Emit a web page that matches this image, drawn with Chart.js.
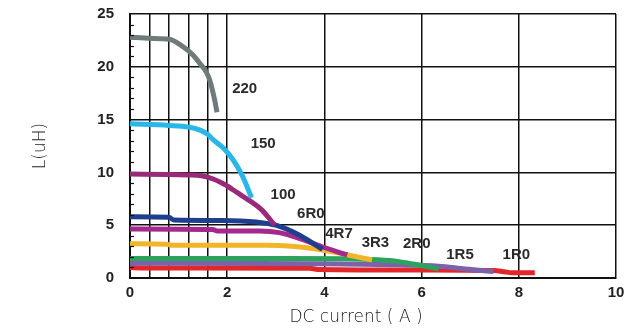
<!DOCTYPE html>
<html>
<head>
<meta charset="utf-8">
<style>
  html, body { margin: 0; padding: 0; background: #fff; }
  #wrap { width: 633px; height: 331px; }
</style>
<script src="https://cdn.jsdelivr.net/npm/chart.js@4.4.1/dist/chart.umd.min.js"></script>
</head>
<body>
<div id="wrap"><canvas id="chart" width="633" height="331"></canvas></div>
<script>
// x ticks (gridlines) and y ticks
const xTicks = [0, 0.4, 0.8, 1.2, 1.6, 2, 4, 6, 8, 10];
const xLabelled = [0, 2, 4, 6, 8, 10];
const yTicks = [0, 5, 10, 15, 20, 25];

// curves: [DC current (A), L (uH)]
const l220 = [[0, 22.8], [0.4, 22.7], [0.81, 22.6], [1.03, 22.1], [1.3, 21.1], [1.44, 20.3], [1.57, 19.5], [1.64, 18.75], [1.74, 16.9], [1.79, 15.7]];
const l150 = [[0, 14.6], [0.8, 14.45], [1.2, 14.3], [1.44, 14.0], [1.6, 13.6], [1.71, 13.1], [1.92, 12.3], [2.12, 11.2], [2.32, 9.6], [2.5, 7.6]];
const l100 = [[0, 9.85], [0.8, 9.8], [1.2, 9.75], [1.44, 9.7], [1.7, 9.4], [1.95, 8.85], [2.2, 8.1], [2.45, 7.35], [2.7, 6.5], [2.98, 5.0]];
const l6R0 = [[0, 5.8], [0.8, 5.75], [0.9, 5.5], [1.9, 5.45], [2.6, 5.3], [3.0, 5.0], [3.48, 4.07], [3.96, 2.7]];
const l4R7 = [[0, 4.65], [1.7, 4.6], [1.8, 4.45], [2.67, 4.45], [3.07, 4.3], [3.48, 3.76], [3.95, 2.96], [4.47, 2.18]];
const l3R3 = [[0, 3.25], [0.75, 3.2], [0.85, 3.1], [2.8, 3.1], [3.35, 3.0], [3.96, 2.65], [4.47, 2.2], [4.98, 1.7]];
const l2R0 = [[0, 1.85], [3.0, 1.85], [4.47, 1.82], [5.1, 1.72], [5.53, 1.55], [5.94, 1.23], [6.35, 0.85]];
const l1R5 = [[0, 1.4], [4.0, 1.35], [5.5, 1.25], [6.35, 1.12], [6.9, 0.85], [7.48, 0.62]];
const l1R0 = [[0, 1.0], [0.3, 0.95], [3.7, 0.92], [3.9, 0.8], [6.0, 0.75], [7.48, 0.7], [7.7, 0.6], [7.85, 0.5], [8.33, 0.5]];

const seriesNames = ["220", "150", "100", "6R0", "4R7", "3R3", "2R0", "1R5", "1R0"];
const seriesData = [l220, l150, l100, l6R0, l4R7, l3R3, l2R0, l1R5, l1R0];
const seriesColors = ["#6f7a7a", "#29b6e8", "#992a7a", "#1d3f8e", "#a3298f", "#f2b52a", "#2ca35c", "#7b63a9", "#e2262a"];

// curve labels, placed at [x, y] in data units
const curveLabels = [
  ["220", 2.36, 17.9], ["150", 2.74, 12.7], ["100", 3.15, 7.86],
  ["6R0", 3.72, 6.06], ["4R7", 4.3, 4.14], ["3R3", 5.05, 3.34],
  ["2R0", 5.9, 3.22], ["1R5", 6.79, 2.18], ["1R0", 7.95, 2.18],
];

const boldFont = "'Liberation Sans', Arial, sans-serif";
const thinFont = "'DejaVu Sans', sans-serif";

const datasets = seriesNames.map((name, i) => ({
  label: name,
  data: seriesData[i].map(([x, y]) => ({ x, y })),
  borderColor: seriesColors[i],
  backgroundColor: seriesColors[i],
  borderWidth: 5,
  pointRadius: 0,
  cubicInterpolationMode: "monotone",
  fill: false,
}));

const extrasPlugin = {
  id: "extras",
  afterDatasetsDraw(chart) {
    const { ctx, chartArea, scales } = chart;
    const xs = scales.x;
    const ys = scales.y;
    ctx.save();
    // minor ticks on the y axis, inside the plot
    ctx.strokeStyle = "#111";
    ctx.lineWidth = 1.2;
    for (let v = 1; v < 25; v++) {
      if (v % 5 === 0) continue;
      const py = Math.round(ys.getPixelForValue(v)) + 0.5;
      ctx.beginPath();
      ctx.moveTo(chartArea.left, py);
      ctx.lineTo(chartArea.left + 4, py);
      ctx.stroke();
    }
    // curve labels
    ctx.fillStyle = "#2a2a2a";
    ctx.font = "bold 15px " + boldFont;
    ctx.textAlign = "center";
    ctx.textBaseline = "middle";
    curveLabels.forEach(([t, x, y]) => {
      ctx.fillText(t, xs.getPixelForValue(x), ys.getPixelForValue(y));
    });
    // x axis title, sits a little left of the plot centre
    ctx.fillStyle = "#222";
    ctx.font = "200 17px " + thinFont;
    ctx.fillText("DC current ( A )", (chartArea.left + chartArea.right) / 2 - 17, chart.height - 13);
    ctx.restore();
  },
};

new Chart(document.getElementById("chart").getContext("2d"), {
  type: "line",
  data: { datasets },
  plugins: [extrasPlugin],
  options: {
    responsive: false,
    animation: false,
    layout: { padding: { left: 0, right: 17, top: 14, bottom: 0 } },
    plugins: { legend: { display: false }, tooltip: { enabled: false } },
    scales: {
      x: {
        type: "linear",
        min: 0,
        max: 10,
        afterBuildTicks: (scale) => {
          scale.ticks = xTicks.map((v) => ({ value: v }));
        },
        afterFit: (scale) => {
          scale.height = 53;
          scale.paddingLeft = 0;
          scale.paddingRight = 0;
        },
        ticks: {
          autoSkip: false,
          maxRotation: 0,
          padding: 6,
          color: "#222",
          font: { family: boldFont, size: 15, weight: "bold" },
          callback: (v) => (xLabelled.includes(v) ? String(v) : ""),
        },
        grid: { color: "#111", lineWidth: 1.5, drawTicks: false },
        border: { color: "#111", width: 2 },
      },
      y: {
        type: "linear",
        min: 0,
        max: 25,
        afterBuildTicks: (scale) => {
          scale.ticks = yTicks.map((v) => ({ value: v }));
        },
        afterFit: (scale) => {
          scale.width = 130;
          scale.paddingTop = 0;
          scale.paddingBottom = 0;
        },
        ticks: {
          padding: 16,
          color: "#222",
          font: { family: boldFont, size: 15, weight: "bold" },
        },
        grid: { color: "#111", lineWidth: 1.5, drawTicks: false },
        border: { color: "#111", width: 2 },
        title: {
          display: true,
          text: "L(uH)",
          color: "#222",
          font: { family: thinFont, size: 17, weight: "200" },
          padding: { top: 30, bottom: 0 },
        },
      },
    },
  },
});
</script>
</body>
</html>
